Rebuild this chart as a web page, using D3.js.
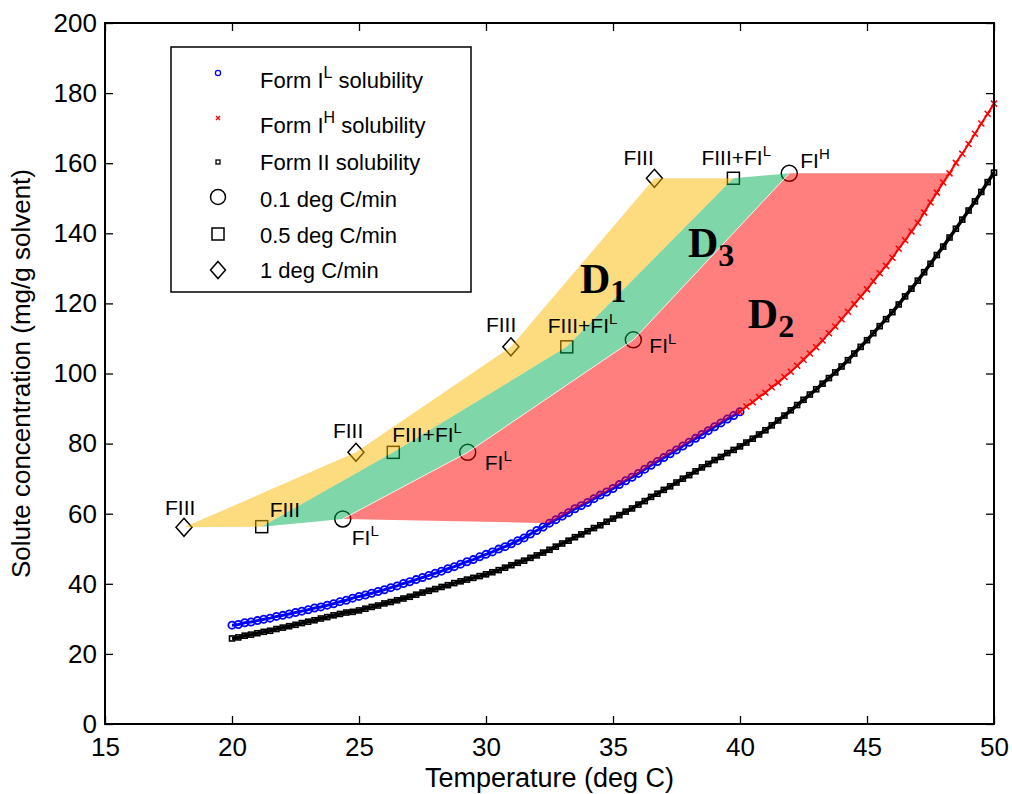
<!DOCTYPE html>
<html>
<head>
<meta charset="utf-8">
<script src="https://cdn.jsdelivr.net/npm/d3@7"></script>
<style>
  body { margin: 0; background: #fff; }
  svg { display: block; }
</style>
</head>
<body>
<svg id="chart" width="1012" height="794"></svg>
<script>
// ---------- data ----------
// Temperatures (deg C) of the solubility measurements, 0.25 deg C apart
const formIL_T = d3.range(0, 81).map(i => 20 + i * 0.25);
const formIH_T = d3.range(0, 41).map(i => 40 + i * 0.25);
const formII_T = d3.range(0, 121).map(i => 20 + i * 0.25);

// Form I^L solubility (mg/g solvent), 20 .. 40 deg C
const formIL_C = [
  28.2, 28.4, 28.9, 29.1, 29.5, 29.9, 30.2, 30.7, 31.0, 31.4, 31.8, 32.2, 32.6, 33.1, 33.4, 33.9,
  34.3, 34.9, 35.3, 35.9, 36.4, 36.8, 37.3, 37.8, 38.3, 38.9, 39.4, 40.1, 40.6, 41.2, 41.8, 42.4,
  43.0, 43.6, 44.3, 44.9, 45.6, 46.3, 46.9, 47.7, 48.4, 49.1, 49.9, 50.6, 51.4, 52.3, 53.1, 54.2,
  55.2, 56.2, 57.3, 58.3, 59.3, 60.3, 61.4, 62.3, 63.2, 64.3, 65.3, 66.2, 67.2, 68.3, 69.4, 70.4,
  71.5, 72.7, 73.8, 74.9, 76.0, 77.1, 78.2, 79.3, 80.4, 81.5, 82.6, 83.7, 84.8, 85.9, 87.0, 88.0,
  89.1
];
// Form I^H solubility (mg/g solvent), 40 .. 50 deg C
const formIH_C = [
  89.1, 90.6, 91.8, 93.3, 94.5, 96.1, 97.4, 99.0, 100.5, 102.2, 103.9, 105.7, 107.5, 109.4,
  111.5, 113.4, 115.5, 117.6, 119.8, 121.9, 124.0, 126.3, 128.6, 130.7, 133.0, 135.6, 138.0,
  140.5, 143.0, 145.9, 148.8, 151.6, 154.5, 157.1, 160.1, 162.7, 165.5, 168.4, 171.3, 174.1,
  177.0
];
// Form II solubility (mg/g solvent), 20 .. 50 deg C
const formII_C = [
  24.4, 24.7, 25.2, 25.5, 25.9, 26.3, 26.6, 27.1, 27.5, 27.9, 28.3, 28.8, 29.2, 29.6, 30.1, 30.5,
  31.0, 31.4, 31.8, 32.0, 32.4, 32.9, 33.4, 33.8, 34.4, 34.8, 35.3, 35.8, 36.3, 36.9, 37.5, 38.0,
  38.5, 39.1, 39.6, 40.2, 40.7, 41.2, 41.7, 42.2, 42.7, 43.3, 43.9, 44.6, 45.3, 46.0, 46.6, 47.4,
  48.1, 48.9, 49.7, 50.6, 51.5, 52.3, 53.3, 54.1, 55.0, 55.9, 56.7, 57.7, 58.6, 59.6, 60.6, 61.5,
  62.6, 63.6, 64.8, 65.7, 66.8, 67.8, 68.9, 70.0, 71.0, 72.1, 73.2, 74.2, 75.3, 76.2, 77.3, 78.2,
  79.2, 80.3, 81.4, 82.6, 83.8, 85.2, 86.6, 88.0, 89.5, 91.0, 92.5, 94.0, 95.5, 97.1, 98.7, 100.3,
  102.0, 103.8, 105.7, 107.6, 109.5, 111.5, 113.5, 115.5, 117.5, 119.7, 122.0, 124.2, 126.5,
  128.9, 131.3, 133.8, 136.2, 138.8, 141.3, 143.9, 146.5, 149.1, 151.8, 154.6, 157.3
];

// Nucleation points at the three cooling rates: temperature, concentration, observed form
const rate01_T = [24.36, 29.28, 35.80, 41.94];
const rate01_C = [58.5, 77.5, 109.6, 157.1];
const rate01_form = ["FI^L", "FI^L", "FI^L", "FI^H"];

const rate05_T = [21.17, 26.35, 33.18, 39.74];
const rate05_C = [56.3, 77.5, 107.6, 155.7];
const rate05_form = ["FIII", "FIII+FI^L", "FIII+FI^L", "FIII+FI^L"];

const rate1_T = [18.11, 24.88, 30.98, 36.63];
const rate1_C = [56.1, 77.5, 107.6, 155.7];
const rate1_form = ["FIII", "FIII", "FIII", "FIII"];

// Lowest temperature on the solubility curve bounding region D2
const d2LowT = 32.5;

// Region labels
const regionNames = ["D", "D", "D"];
const regionSubs = ["1", "3", "2"];
const regionT = [33.70, 37.95, 40.31];
const regionC = [123.0, 133.2, 113.0];

const xTicks = [15, 20, 25, 30, 35, 40, 45, 50];
const yTicks = [0, 20, 40, 60, 80, 100, 120, 140, 160, 180, 200];

const legendLabels = [
  ["Form I", "L", " solubility"],
  ["Form I", "H", " solubility"],
  ["Form II solubility"],
  ["0.1 deg C/min"],
  ["0.5 deg C/min"],
  ["1 deg C/min"]
];

// ---------- layout ----------
const SANS = "'Liberation Sans', Arial, Helvetica, sans-serif";
const SERIF = "'Liberation Serif', 'Times New Roman', Times, serif";
const svg = d3.select("#chart").style("font-family", SANS);
const plotL = 105, plotR = 994, plotT = 23, plotB = 724;
const x = d3.scaleLinear().domain([15, 50]).range([plotL, plotR]);
const y = d3.scaleLinear().domain([0, 200]).range([plotB, plotT]);

const zip = (T, C) => T.map((t, i) => [t, C[i]]);
const IL = zip(formIL_T, formIL_C);
const IH = zip(formIH_T, formIH_C);
const II = zip(formII_T, formII_C);
const R01 = zip(rate01_T, rate01_C);
const R05 = zip(rate05_T, rate05_C);
const R1 = zip(rate1_T, rate1_C);

const line = d3.line().x(d => x(d[0])).y(d => y(d[1]));

// ---------- axes ----------
const tickLen = 8;
const gx = svg.append("g").attr("transform", `translate(0,${plotB})`)
  .call(d3.axisBottom(x).tickValues(xTicks).tickSizeInner(-tickLen).tickSizeOuter(0).tickPadding(14));
const gy = svg.append("g").attr("transform", `translate(${plotL},0)`)
  .call(d3.axisLeft(y).tickValues(yTicks).tickSizeInner(-tickLen).tickSizeOuter(0).tickPadding(8));
const gxt = svg.append("g").attr("transform", `translate(0,${plotT})`)
  .call(d3.axisTop(x).tickValues(xTicks).tickSizeInner(-tickLen).tickSizeOuter(0).tickFormat(""));
const gyr = svg.append("g").attr("transform", `translate(${plotR},0)`)
  .call(d3.axisRight(y).tickValues(yTicks).tickSizeInner(-tickLen).tickSizeOuter(0).tickFormat(""));
[gx, gy, gxt, gyr].forEach(g => {
  g.attr("font-family", null).attr("font-size", null);
  g.select(".domain").remove();
  g.selectAll(".tick line").attr("stroke", "#000").attr("stroke-width", 1.3);
  g.selectAll(".tick text").attr("font-size", 26).attr("fill", "#000");
});

// ---------- solubility curves ----------
const curves = svg.append("g");
curves.append("path").datum(II).attr("d", line)
  .attr("fill", "none").attr("stroke", "#000").attr("stroke-width", 3.5);
curves.append("g").selectAll("rect").data(II).join("rect")
  .attr("x", d => x(d[0]) - 2.5).attr("y", d => y(d[1]) - 2.5)
  .attr("width", 5).attr("height", 5)
  .attr("fill", "none").attr("stroke", "#000").attr("stroke-width", 1.6);

curves.append("path").datum(IL).attr("d", line)
  .attr("fill", "none").attr("stroke", "#0000ff").attr("stroke-width", 3);
curves.append("g").selectAll("circle").data(IL).join("circle")
  .attr("cx", d => x(d[0])).attr("cy", d => y(d[1])).attr("r", 3.6)
  .attr("fill", "none").attr("stroke", "#0000ff").attr("stroke-width", 1.8);

curves.append("path").datum(IH).attr("d", line)
  .attr("fill", "none").attr("stroke", "#ff0000").attr("stroke-width", 2);
const xMark = (cx, cy, s) => `M${cx - s},${cy - s}L${cx + s},${cy + s}M${cx - s},${cy + s}L${cx + s},${cy - s}`;
curves.append("g").selectAll("path").data(IH).join("path")
  .attr("d", d => xMark(x(d[0]), y(d[1]), 3))
  .attr("fill", "none").attr("stroke", "#ff0000").attr("stroke-width", 1.5);

// ---------- nucleation markers ----------
const markerStroke = "#000";
const diamondPath = (cx, cy, w, h) => `M${cx},${cy - h}L${cx + w},${cy}L${cx},${cy + h}L${cx - w},${cy}Z`;
const markers = svg.append("g");
markers.selectAll("circle").data(R01).join("circle")
  .attr("cx", d => x(d[0])).attr("cy", d => y(d[1])).attr("r", 8)
  .attr("fill", "none").attr("stroke", markerStroke).attr("stroke-width", 1.5);
markers.selectAll("rect").data(R05).join("rect")
  .attr("x", d => x(d[0]) - 6).attr("y", d => y(d[1]) - 6).attr("width", 12).attr("height", 12)
  .attr("fill", "none").attr("stroke", markerStroke).attr("stroke-width", 1.5);
markers.selectAll("path").data(R1).join("path")
  .attr("d", d => diamondPath(x(d[0]), y(d[1]), 8, 9))
  .attr("fill", "none").attr("stroke", markerStroke).attr("stroke-width", 1.5);

// ---------- regions ----------
const regions = svg.append("g");
// D1: between the 1 deg C/min and 0.5 deg C/min points
regions.append("path").datum(R1.concat(R05.slice().reverse()))
  .attr("d", d => line(d) + "Z").attr("fill", "#fbb900").attr("fill-opacity", 0.5);
// D3: between the 0.5 and 0.1 deg C/min points
regions.append("path").datum(R05.concat(R01.slice().reverse()))
  .attr("d", d => line(d) + "Z").attr("fill", "#00ad52").attr("fill-opacity", 0.5);
// D2: between the 0.1 deg C/min points and the form I solubility curve
const topC = R01[R01.length - 1][1];
const solI = IL.filter(d => d[0] >= d2LowT).concat(IH.filter(d => d[0] > 40));
const below = solI.filter(d => d[1] <= topC);
const aIdx = below.length - 1;
const pa = solI[aIdx], pb = solI[aIdx + 1];
const topCross = [pa[0] + (pb[0] - pa[0]) * (topC - pa[1]) / (pb[1] - pa[1]), topC];
const d2 = R01.concat([topCross], below.slice().reverse());
regions.append("path").datum(d2)
  .attr("d", d => line(d) + "Z").attr("fill", "#ff0000").attr("fill-opacity", 0.5);
// thin seam along the D3 / D2 border
regions.append("path").datum(R01).attr("d", line)
  .attr("fill", "none").attr("stroke", "#fff").attr("stroke-width", 1).attr("stroke-opacity", 0.8);

// ---------- point labels ----------
function richText(sel, str, supSize, supShift) {
  const parts = str.split("^");
  sel.append("tspan").text(parts[0]);
  if (parts.length > 1) {
    sel.append("tspan").attr("font-size", supSize).attr("dy", -supShift).text(parts[1]);
  }
}
const labelFont = 21;
const pointLabels = [
  { pts: R1, forms: rate1_form, off: [[-19, -12], [-23, -14], [-25, -15], [-31, -13]] },
  { pts: R05, forms: rate05_form, off: [[8, -10], [-1, -10], [-19, -14], [-32, -13]] },
  { pts: R01, forms: rate01_form, off: [[9, 26], [17, 18], [16, 13], [11, -5]] }
];
const labelG = svg.append("g");
pointLabels.forEach(set => {
  set.pts.forEach((p, i) => {
    const t = labelG.append("text")
      .attr("x", x(p[0]) + set.off[i][0]).attr("y", y(p[1]) + set.off[i][1])
      .attr("font-size", labelFont);
    richText(t, set.forms[i], 15, 9);
  });
});

// ---------- region labels ----------
regionNames.forEach((n, i) => {
  const t = svg.append("text")
    .attr("x", x(regionT[i])).attr("y", y(regionC[i]))
    .style("font-family", SERIF)
    .attr("font-weight", "bold").attr("font-size", 42);
  t.append("tspan").text(n);
  t.append("tspan").attr("font-size", 32).attr("dy", 9).text(regionSubs[i]);
});

// ---------- frame ----------
svg.append("rect").attr("x", plotL).attr("y", plotT)
  .attr("width", plotR - plotL).attr("height", plotB - plotT)
  .attr("fill", "none").attr("stroke", "#000").attr("stroke-width", 2);

// ---------- axis titles ----------
svg.append("text").attr("x", (plotL + plotR) / 2).attr("y", 787)
  .attr("text-anchor", "middle").attr("font-size", 27).text("Temperature (deg C)");
svg.append("text").attr("transform", `translate(30,${(plotT + plotB) / 2}) rotate(-90)`)
  .attr("text-anchor", "middle").attr("font-size", 26).text("Solute concentration (mg/g solvent)");

// ---------- legend ----------
const lg = svg.append("g");
lg.append("rect").attr("x", 171).attr("y", 47).attr("width", 300).attr("height", 245)
  .attr("fill", "#fff").attr("stroke", "#000").attr("stroke-width", 1.5);
const rowBase = [88, 133, 170, 207, 243, 278];
const markY = [73, 118, 162, 197, 234, 270];
const mx = 218;
legendLabels.forEach((parts, i) => {
  const t = lg.append("text").attr("x", 260).attr("y", rowBase[i]).attr("font-size", 22);
  t.append("tspan").text(parts[0]);
  if (parts.length > 1) {
    t.append("tspan").attr("font-size", 16).attr("dy", -10).text(parts[1]);
    t.append("tspan").attr("dy", 10).text(parts[2]);
  }
});
lg.append("circle").attr("cx", mx).attr("cy", markY[0]).attr("r", 2.6)
  .attr("fill", "none").attr("stroke", "#0000ff").attr("stroke-width", 1.3);
lg.append("path").attr("d", xMark(mx, markY[1], 2)).attr("stroke", "#ff0000").attr("stroke-width", 1.3);
lg.append("rect").attr("x", mx - 2).attr("y", markY[2] - 2).attr("width", 4).attr("height", 4)
  .attr("fill", "none").attr("stroke", "#000").attr("stroke-width", 1.3);
lg.append("circle").attr("cx", mx).attr("cy", markY[3]).attr("r", 7.5)
  .attr("fill", "none").attr("stroke", "#000").attr("stroke-width", 1.5);
lg.append("rect").attr("x", mx - 6).attr("y", markY[4] - 6).attr("width", 12).attr("height", 12)
  .attr("fill", "none").attr("stroke", "#000").attr("stroke-width", 1.5);
lg.append("path").attr("d", diamondPath(mx, markY[5], 7.5, 8.5))
  .attr("fill", "none").attr("stroke", "#000").attr("stroke-width", 1.5);
</script>
</body>
</html>
